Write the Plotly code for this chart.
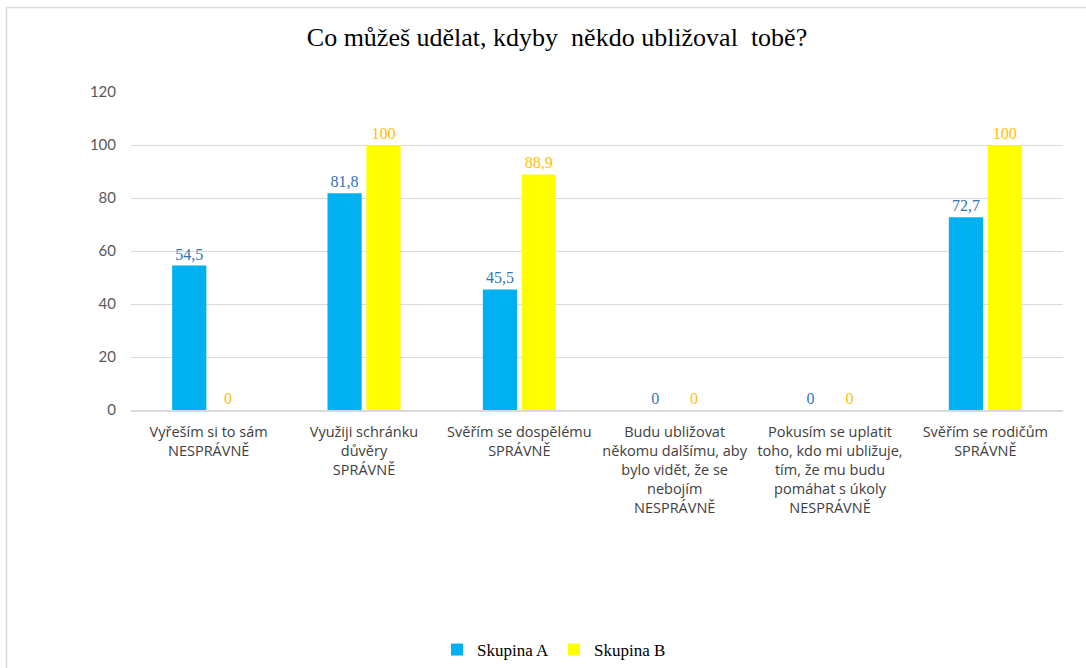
import plotly.graph_objects as go

categories = [
    "Vyřeším si to sám<br>NESPRÁVNĚ",
    "Využiji schránku<br>důvěry<br>SPRÁVNĚ",
    "Svěřím se dospělému<br>SPRÁVNĚ",
    "Budu ubližovat<br>někomu dalšímu, aby<br>bylo vidět, že se<br>nebojím<br>NESPRÁVNĚ",
    "Pokusím se uplatit<br>toho, kdo mi ubližuje,<br>tím, že mu budu<br>pomáhat s úkoly<br>NESPRÁVNĚ",
    "Svěřím se rodičům<br>SPRÁVNĚ",
]
skupina_a = [54.5, 81.8, 45.5, 0, 0, 72.7]
skupina_b = [0, 100, 88.9, 0, 0, 100]
y_ticks = [0, 20, 40, 60, 80, 100, 120]


def fmt(v):
    return ("%g" % v).replace(".", ",")


W, H = 1086, 668
L, R, T, B = 131, 23, 92, 258
pw, ph = W - L - R, H - T - B


def px_x(x):
    return (x - L) / pw


def px_y(y):
    return (H - B - y) / ph


SERIF = "Liberation Serif, Times New Roman, serif"
SANS = "Open Sans, sans-serif"

fig = go.Figure()
fig.add_trace(go.Bar(
    name="Skupina A", x=categories, y=skupina_a,
    marker=dict(color="#00B0F0", line=dict(width=0)),
    text=[fmt(v) for v in skupina_a], textposition="outside",
    textfont=dict(family=SERIF, size=16, color="#2E75B6"),
    cliponaxis=False,
))
fig.add_trace(go.Bar(
    name="Skupina B", x=categories, y=skupina_b,
    marker=dict(color="#FFFF00", line=dict(width=0)),
    text=[fmt(v) for v in skupina_b], textposition="outside",
    textfont=dict(family=SERIF, size=16, color="#FFC000"),
    cliponaxis=False,
))

fig.update_layout(
    width=W, height=H,
    margin=dict(l=L, r=R, t=T, b=B, autoexpand=False),
    paper_bgcolor="white", plot_bgcolor="white",
    barmode="group", bargap=0.5, bargroupgap=0.12,
    title=dict(text="Co můžeš udělat, kdyby  někdo ubližoval  tobě?",
               x=557 / W, xref="container", xanchor="center",
               y=1 - 37 / H, yref="container", yanchor="middle",
               font=dict(family=SERIF, size=26, color="#000000")),
    font=dict(family=SANS, size=14.5, color="#404040"),
    showlegend=True,
    legend=dict(orientation="h", x=px_x(554), xanchor="center",
                y=px_y(650), yanchor="middle",
                font=dict(family=SERIF, size=17, color="#000000"),
                traceorder="normal"),
)
fig.update_yaxes(range=[0, 120], tickvals=y_ticks, showgrid=True,
                 gridcolor="#D9D9D9", gridwidth=1, zeroline=False,
                 showline=False, ticks="", ticklabelstandoff=14,
                 automargin=False,
                 tickfont=dict(family="Lato", size=15, color="#595959"))
fig.update_xaxes(showline=True, linecolor="#D9D9D9", linewidth=1.5,
                 ticks="", tickangle=0, automargin=False,
                 ticklabelstandoff=8,
                 tickfont=dict(family=SANS, size=14.5, color="#404040"))

# outer frame lines (top and left)
fig.add_shape(type="line", xref="paper", yref="paper",
              x0=px_x(6.5), x1=px_x(W), y0=px_y(7.5), y1=px_y(7.5),
              line=dict(color="#D9D9D9", width=1.5))
fig.add_shape(type="line", xref="paper", yref="paper",
              x0=px_x(6.5), x1=px_x(6.5), y0=px_y(7.5), y1=px_y(H),
              line=dict(color="#D9D9D9", width=1.5))

fig.write_html("out.html")
